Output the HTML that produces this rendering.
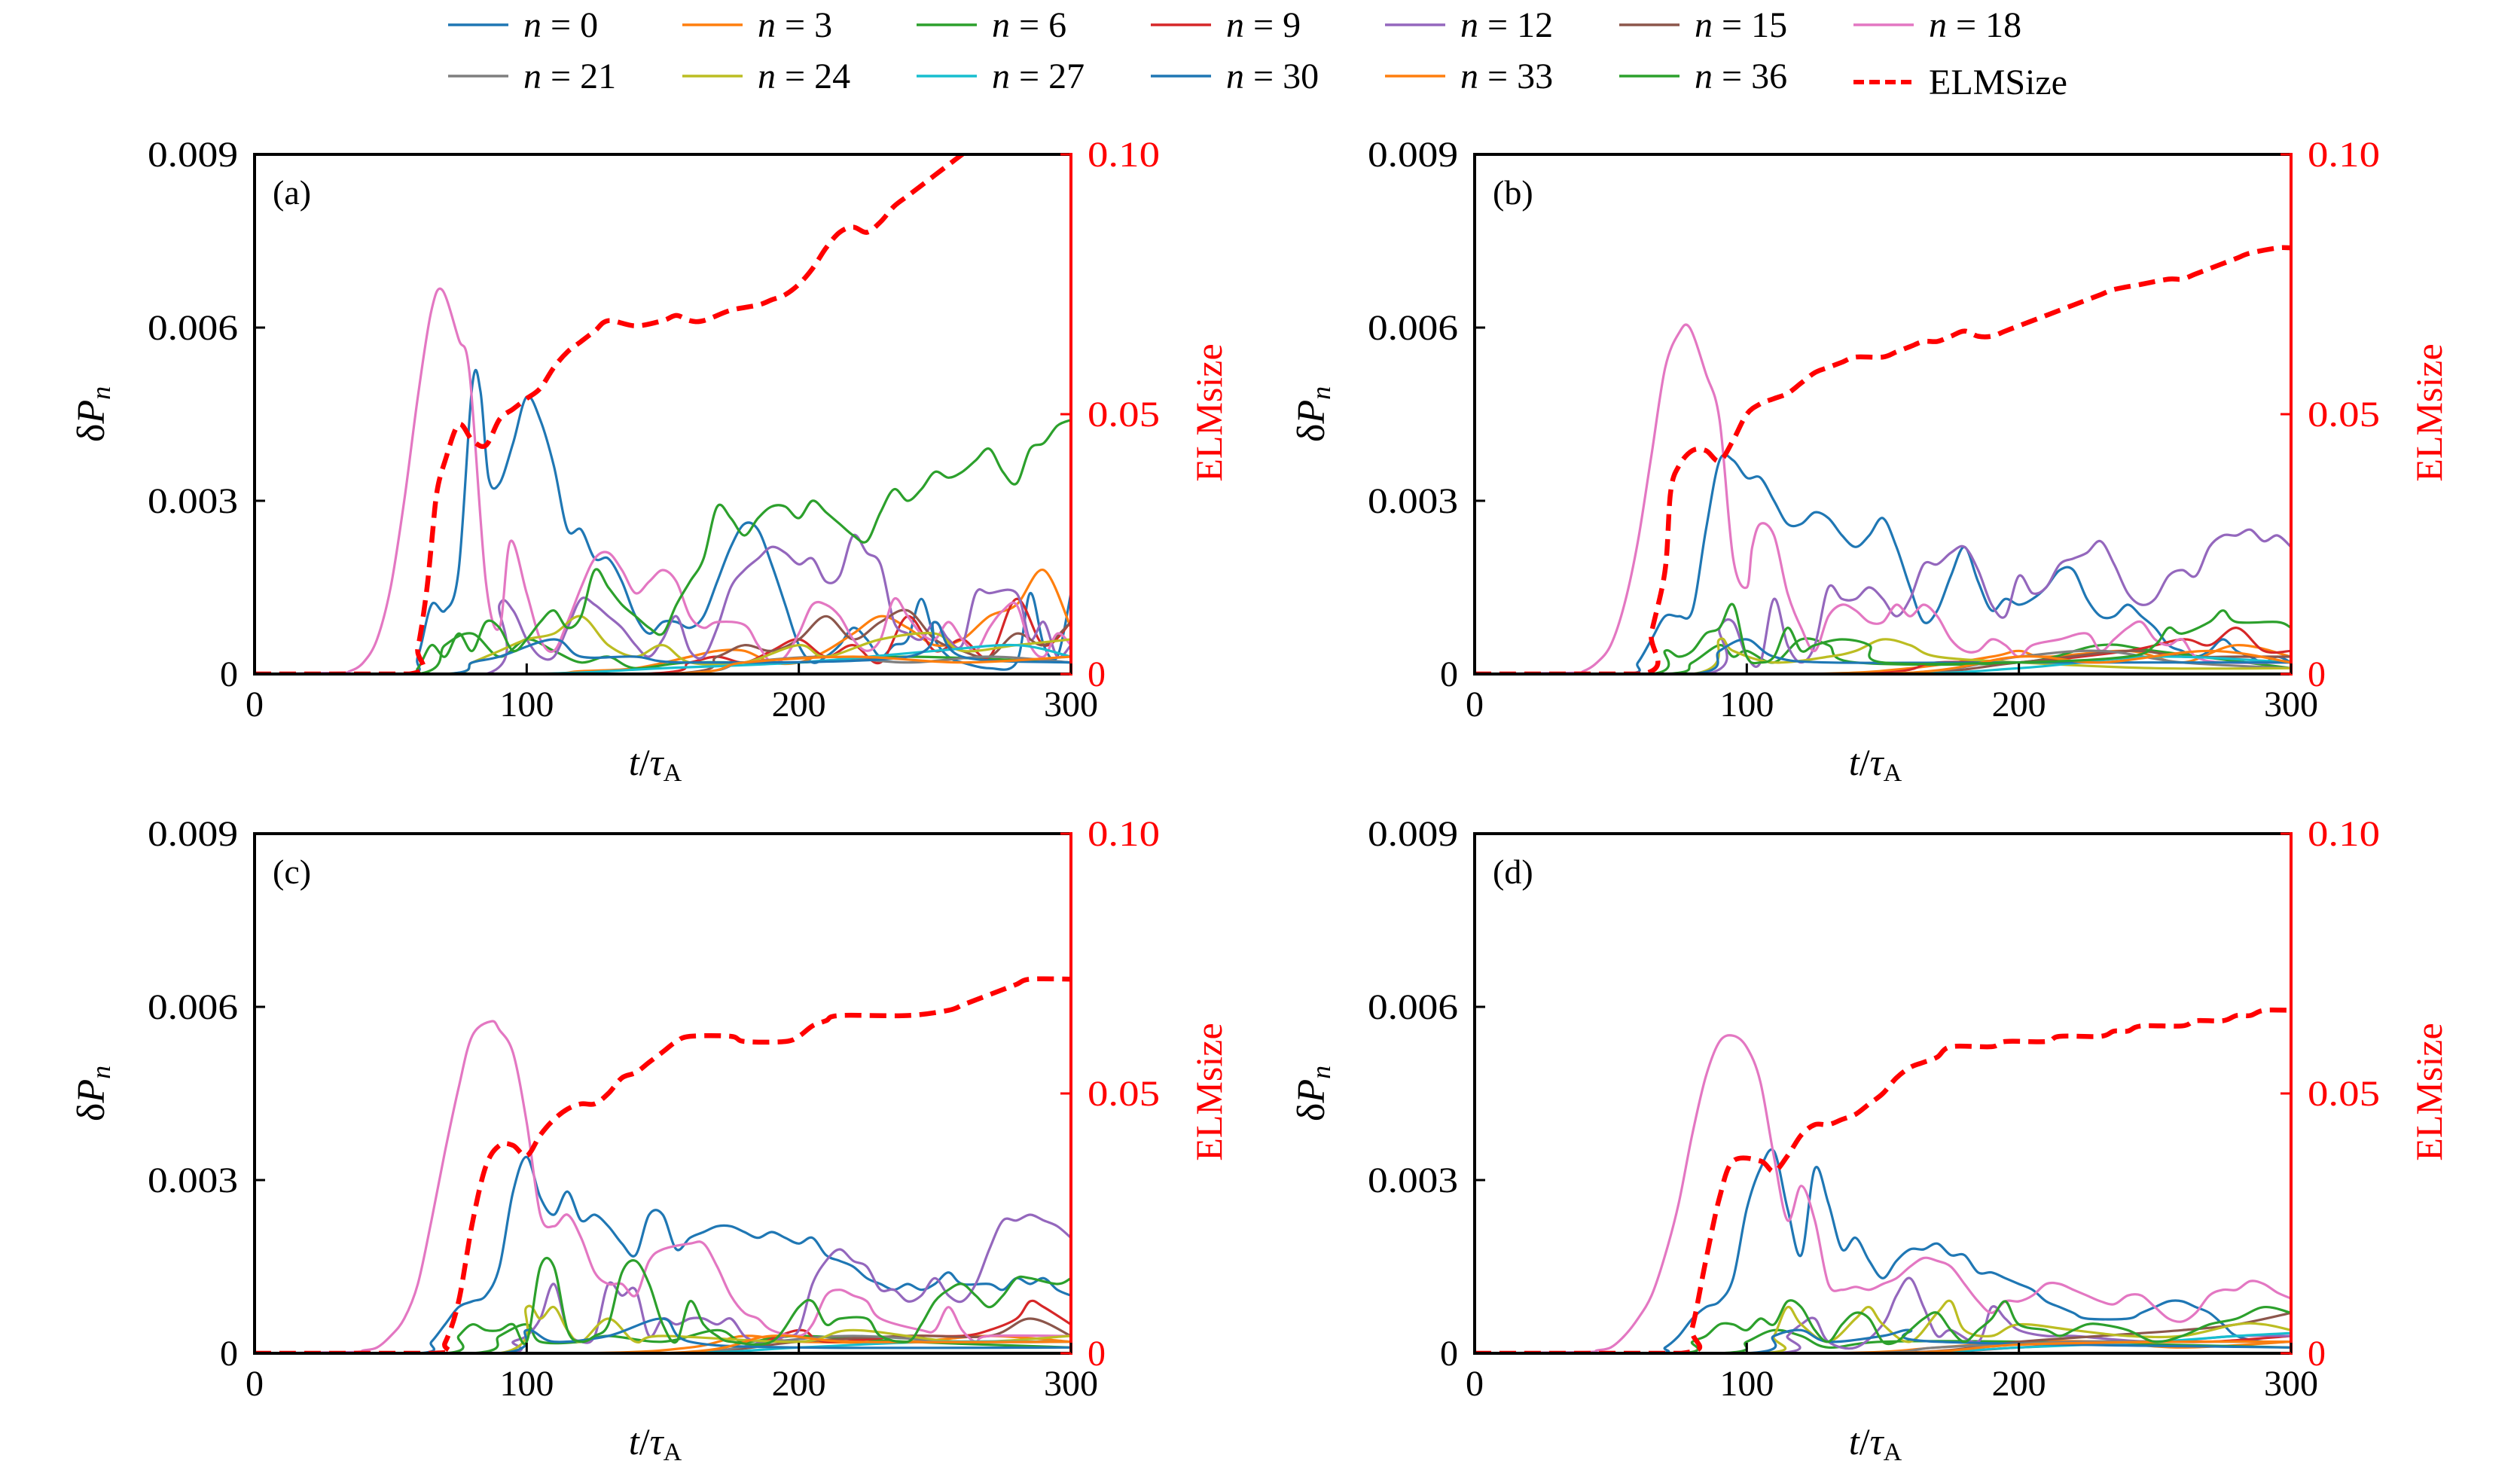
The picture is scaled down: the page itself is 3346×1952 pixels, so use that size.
<!DOCTYPE html>
<html><head><meta charset="utf-8"><style>
html,body{margin:0;padding:0;background:#fff;}
svg{display:block;}
text{font-family:"Liberation Serif",serif;}
</style></head>
<body>
<svg id="fig" width="3346" height="1952" viewBox="0 0 3346 1952" xmlns="http://www.w3.org/2000/svg"></svg>
<script>
// ---- data: dP in units of 1e-3, ELMsize in %, pairs [t, value] ----
const a_n0=[[0,0],[55,0],[60,0.3],[65,1.2],[70,1.1],[75,1.8],[80,5.0],[83,4.9],[86,3.4],[90,3.3],[95,4.0],[100,4.8],[105,4.4],[110,3.6],[115,2.5],[120,2.5],[125,2.0],[130,2.0],[135,1.6],[140,1.0],[145,0.7],[150,0.9],[155,0.9],[160,0.8],[165,1.0],[170,1.6],[175,2.2],[180,2.6],[185,2.5],[190,1.9],[195,1.2],[200,0.5],[205,0.2],[210,0.3],[215,0.5],[220,0.8],[225,0.6],[230,0.3],[235,0.5],[240,0.6],[245,1.3],[250,0.6],[255,0.3],[260,0.2],[270,0.1],[280,0.2],[285,1.4],[290,0.5],[295,0.3],[300,1.4]];
const a_n18=[[0,0],[30,0.02],[35,0.05],[40,0.2],[45,0.6],[50,1.5],[55,3.0],[60,4.8],[65,6.3],[69,6.65],[75,5.8],[79,5.2],[85,1.6],[90,0.8],[94,2.3],[100,1.4],[105,0.6],[110,0.4],[115,0.9],[120,1.5],[125,2.0],[130,2.1],[135,1.8],[140,1.4],[145,1.6],[150,1.8],[155,1.6],[160,1.0],[165,0.8],[170,0.9],[180,0.85],[185,0.5],[190,0.2],[195,0.3],[200,0.7],[205,1.2],[210,1.2],[215,1.0],[220,0.6],[225,0.4],[230,0.6],[235,1.3],[240,1.0],[245,0.7],[250,0.6],[255,0.9],[260,0.6],[265,0.4],[270,0.8],[275,1.1],[280,1.2],[285,0.5],[290,0.3],[295,0.7],[300,0.5]];
const a_n12=[[0,0],[85,0],[90,1.2],[95,1.1],[100,0.6],[105,0.3],[110,0.3],[115,0.8],[120,1.3],[125,1.2],[130,1.0],[135,0.8],[140,0.5],[145,0.3],[150,0.6],[155,1.0],[160,0.4],[165,0.3],[170,0.8],[175,1.5],[180,1.8],[185,2.0],[190,2.2],[195,2.1],[200,1.9],[205,2.0],[210,1.6],[215,1.7],[220,2.4],[225,2.1],[230,1.9],[235,0.9],[240,0.7],[245,0.6],[250,0.9],[255,0.6],[260,0.5],[265,1.4],[270,1.4],[280,1.4],[285,0.6],[290,0.9],[295,0.3],[300,0.5]];
const a_n36=[[0,0],[55,0],[60,0.1],[65,0.5],[70,0.3],[75,0.7],[80,0.4],[85,0.9],[90,0.8],[95,0.4],[100,0.6],[105,0.9],[110,1.1],[115,0.8],[120,1.0],[125,1.8],[130,1.5],[135,1.2],[140,1.0],[145,0.8],[150,0.7],[155,1.2],[160,1.6],[165,2.0],[170,2.9],[175,2.7],[180,2.4],[185,2.7],[190,2.9],[195,2.9],[200,2.7],[205,3.0],[210,2.8],[215,2.6],[220,2.4],[225,2.3],[230,2.8],[235,3.2],[240,3.0],[245,3.2],[250,3.5],[255,3.4],[260,3.5],[265,3.7],[270,3.9],[275,3.5],[280,3.3],[285,3.9],[290,4.0],[295,4.3],[300,4.4]];
const a_n6=[[0,0],[60,0],[70,0.5],[80,0.7],[90,0.3],[100,0.6],[110,0.4],[120,0.2],[130,0.3],[140,0.1],[160,0.2],[200,0.2],[240,0.3],[300,0.2]];
const a_n3=[[0,0],[100,0],[120,0.05],[140,0.1],[160,0.3],[170,0.4],[180,0.4],[190,0.2],[200,0.2],[210,0.4],[220,0.7],[230,1.0],[240,0.8],[250,0.5],[260,0.6],[270,1.0],[280,1.2],[290,1.8],[300,0.8]];
const a_n9=[[0,0],[140,0],[160,0.2],[170,0.3],[180,0.2],[190,0.4],[200,0.6],[210,0.3],[220,0.5],[230,0.2],[240,1.0],[250,0.4],[260,0.6],[270,0.3],[280,1.3],[290,0.5],[300,0.9]];
const a_n15=[[0,0],[150,0],[170,0.3],[180,0.5],[190,0.4],[200,0.6],[210,1.0],[220,0.6],[230,0.9],[240,1.1],[250,0.6],[260,0.4],[270,0.3],[280,0.7],[290,0.5],[300,0.9]];
const a_n24=[[0,0],[70,0],[80,0.2],[90,0.4],[100,0.6],[110,0.7],[120,1.0],[130,0.5],[140,0.3],[150,0.5],[160,0.2],[180,0.2],[200,0.5],[210,0.3],[230,0.6],[250,0.7],[260,0.4],[280,0.5],[300,0.6]];
const a_n27=[[0,0],[100,0],[150,0.1],[200,0.2],[250,0.4],[280,0.5],[300,0.3]];
const a_n21=[[0,0],[150,0],[180,0.2],[210,0.3],[240,0.2],[270,0.3],[300,0.2]];
const a_n30=[[0,0],[70,0],[80,0.2],[90,0.3],[110,0.6],[120,0.3],[140,0.3],[160,0.2],[240,0.3],[250,0.9],[260,0.3],[300,0.2]];
const a_n33=[[0,0],[150,0],[180,0.2],[220,0.3],[260,0.2],[300,0.3]];
const a_elm=[[0,0],[57,0],[60,0.5],[63,1.5],[65,2.5],[67,3.5],[70,4.1],[75,4.8],[80,4.5],[85,4.4],[90,4.9],[95,5.1],[100,5.3],[105,5.5],[110,5.9],[115,6.2],[120,6.4],[125,6.6],[130,6.8],[140,6.7],[150,6.8],[155,6.9],[160,6.8],[165,6.8],[175,7.0],[185,7.1],[190,7.2],[195,7.3],[200,7.5],[205,7.8],[210,8.2],[215,8.5],[220,8.6],[225,8.5],[230,8.7],[235,9.0],[240,9.2],[245,9.4],[250,9.6],[255,9.8],[260,10.0],[270,10.4],[300,11.5]];

const b_n0=[[0,0],[55,0],[60,0.2],[65,0.6],[70,1.0],[75,1.0],[80,1.1],[85,2.5],[90,3.7],[95,3.7],[100,3.4],[105,3.4],[110,3.0],[115,2.6],[120,2.6],[125,2.8],[130,2.7],[135,2.4],[140,2.2],[145,2.4],[150,2.7],[155,2.2],[160,1.5],[165,0.9],[170,1.1],[175,1.7],[180,2.2],[185,1.6],[190,1.1],[195,1.3],[200,1.2],[205,1.3],[210,1.5],[215,1.8],[220,1.8],[225,1.3],[230,1.0],[235,1.0],[240,1.2],[245,1.0],[250,0.8],[255,0.5],[260,0.4],[265,0.3],[270,0.4],[275,0.6],[280,0.4],[285,0.3],[290,0.2],[295,0.3],[300,0.2]];
const b_n18=[[0,0],[35,0.02],[40,0.05],[45,0.2],[50,0.5],[55,1.2],[60,2.3],[65,3.8],[70,5.3],[75,5.9],[79,6.0],[85,5.2],[90,4.4],[95,2.0],[100,1.5],[102,2.2],[105,2.6],[110,2.4],[115,1.4],[120,0.8],[125,0.4],[130,1.0],[135,1.2],[140,1.1],[145,0.9],[150,0.9],[155,1.2],[160,1.0],[165,1.2],[170,1.0],[175,0.6],[180,0.4],[185,0.4],[190,0.6],[195,0.5],[200,0.3],[205,0.5],[215,0.6],[225,0.7],[230,0.4],[235,0.6],[240,0.8],[245,0.9],[250,0.6],[255,0.5],[260,0.6],[265,0.3],[275,0.2],[300,0.2]];
const b_n12=[[0,0],[85,0],[90,0.8],[95,0.9],[100,0.3],[105,0.2],[110,1.3],[115,0.5],[120,0.2],[125,0.5],[130,1.5],[135,1.3],[140,1.3],[145,1.5],[150,1.3],[155,1.0],[160,1.3],[165,1.9],[170,1.9],[175,2.1],[180,2.2],[185,1.8],[190,1.2],[195,1.0],[200,1.7],[205,1.4],[210,1.5],[215,1.9],[220,2.0],[225,2.1],[230,2.3],[235,1.9],[240,1.4],[245,1.2],[250,1.3],[255,1.7],[260,1.8],[265,1.7],[270,2.2],[275,2.4],[280,2.4],[285,2.5],[290,2.3],[295,2.4],[300,2.2]];
const b_n36=[[0,0],[65,0],[70,0.4],[75,0.3],[80,0.4],[85,0.7],[90,0.8],[95,1.2],[100,0.3],[105,0.2],[110,0.3],[115,0.8],[120,0.4],[125,0.5],[135,0.6],[145,0.5],[150,0.2],[200,0.2],[240,0.3],[250,0.5],[255,0.8],[260,0.7],[270,0.9],[275,1.1],[280,0.9],[295,0.9],[300,0.8]];
const b_n6=[[0,0],[70,0],[80,0.2],[90,0.5],[95,0.3],[100,0.4],[110,0.2],[120,0.6],[130,0.5],[140,0.2],[200,0.2],[230,0.5],[250,0.4],[300,0.1]];
const b_n3=[[0,0],[120,0],[160,0.1],[190,0.3],[200,0.4],[210,0.3],[240,0.4],[260,0.2],[280,0.5],[300,0.3]];
const b_n9=[[0,0],[140,0],[170,0.2],[200,0.2],[240,0.4],[260,0.6],[270,0.5],[280,0.8],[290,0.4],[300,0.4]];
const b_n15=[[0,0],[150,0],[200,0.2],[240,0.4],[260,0.3],[280,0.3],[300,0.3]];
const b_n24=[[0,0],[80,0],[90,0.6],[95,0.4],[110,0.2],[130,0.3],[140,0.4],[150,0.6],[160,0.5],[170,0.3],[200,0.2],[250,0.1],[300,0.1]];
const b_n27=[[0,0],[150,0],[200,0.1],[250,0.3],[300,0.2]];
const b_n21=[[0,0],[150,0],[200,0.3],[230,0.4],[260,0.2],[300,0.1]];
const b_n30=[[0,0],[80,0],[90,0.4],[100,0.6],[110,0.3],[130,0.2],[200,0.2],[300,0.2]];
const b_n33=[[0,0],[150,0],[200,0.3],[230,0.2],[270,0.4],[300,0.2]];
const b_elm=[[0,0],[62,0],[65,0.8],[70,2.0],[72,3.5],[75,4.0],[80,4.3],[85,4.3],[90,4.1],[95,4.5],[100,5.0],[105,5.2],[110,5.3],[115,5.4],[120,5.6],[125,5.8],[130,5.9],[135,6.0],[140,6.1],[150,6.1],[155,6.2],[160,6.3],[165,6.4],[170,6.4],[175,6.5],[180,6.6],[185,6.5],[190,6.5],[195,6.6],[200,6.7],[205,6.8],[210,6.9],[215,7.0],[220,7.1],[225,7.2],[230,7.3],[235,7.4],[245,7.5],[255,7.6],[260,7.6],[265,7.7],[270,7.8],[275,7.9],[280,8.0],[285,8.1],[295,8.2],[300,8.2]];

const c_n0=[[0,0],[60,0],[65,0.2],[70,0.5],[75,0.8],[80,0.9],[85,1.0],[90,1.5],[95,2.8],[100,3.4],[105,2.7],[110,2.4],[115,2.8],[120,2.3],[125,2.4],[130,2.2],[135,1.9],[140,1.7],[145,2.4],[150,2.4],[155,1.8],[160,2.0],[165,2.1],[170,2.2],[175,2.2],[180,2.1],[185,2.0],[190,2.1],[195,2.0],[200,1.9],[205,2.0],[210,1.7],[215,1.6],[220,1.5],[225,1.3],[230,1.2],[235,1.1],[240,1.2],[245,1.1],[250,1.2],[255,1.4],[260,1.2],[270,1.2],[275,1.1],[280,1.3],[285,1.2],[290,1.3],[295,1.1],[300,1.0]];
const c_n18=[[0,0],[35,0.02],[40,0.05],[45,0.1],[50,0.3],[55,0.6],[60,1.2],[65,2.3],[70,3.5],[75,4.6],[80,5.5],[87,5.75],[90,5.6],[95,5.2],[100,4.0],[105,2.4],[110,2.2],[115,2.4],[120,2.0],[125,1.4],[130,1.2],[135,1.2],[140,1.0],[145,1.6],[150,1.8],[160,1.9],[165,1.9],[170,1.5],[175,1.0],[180,0.7],[185,0.6],[190,0.4],[200,0.3],[205,0.5],[210,1.0],[215,1.1],[220,1.0],[225,0.9],[230,0.6],[245,0.4],[250,0.4],[255,0.8],[260,0.4],[265,0.2],[270,0.3],[300,0.3]];
const c_n12=[[0,0],[90,0],[95,0.2],[100,0.3],[105,0.6],[110,1.2],[115,0.4],[120,0.2],[125,0.3],[130,1.2],[135,1.0],[140,1.1],[145,0.3],[150,0.6],[155,0.5],[160,0.6],[165,0.6],[170,0.5],[175,0.6],[180,0.3],[185,0.2],[190,0.2],[195,0.3],[200,0.4],[205,1.2],[210,1.6],[215,1.8],[220,1.6],[225,1.5],[230,1.1],[235,1.1],[240,0.9],[245,1.0],[250,1.3],[255,1.0],[260,0.9],[265,1.2],[270,1.8],[275,2.3],[280,2.3],[285,2.4],[290,2.3],[295,2.2],[300,2.0]];
const c_n36=[[0,0],[70,0],[75,0.3],[80,0.5],[85,0.4],[90,0.4],[95,0.5],[100,0.2],[105,1.5],[110,1.5],[115,0.4],[120,0.2],[125,0.3],[130,0.5],[135,1.4],[140,1.6],[145,1.2],[150,0.5],[155,0.2],[160,0.9],[165,0.5],[170,0.3],[175,0.2],[190,0.2],[200,0.8],[205,0.9],[210,0.5],[215,0.6],[225,0.6],[230,0.3],[240,0.2],[245,0.5],[250,0.9],[255,1.1],[260,1.2],[265,1.0],[270,0.8],[275,1.0],[280,1.3],[285,1.3],[295,1.2],[300,1.3]];
const c_n6=[[0,0],[80,0],[90,0.3],[100,0.5],[105,0.2],[120,0.2],[130,0.3],[150,0.2],[170,0.4],[180,0.2],[200,0.3],[240,0.2],[300,0.1]];
const c_n3=[[0,0],[120,0],[160,0.1],[180,0.3],[200,0.2],[240,0.2],[270,0.3],[300,0.2]];
const c_n9=[[0,0],[150,0],[180,0.1],[200,0.4],[210,0.2],[240,0.3],[260,0.3],[270,0.4],[280,0.6],[285,0.9],[290,0.8],[300,0.5]];
const c_n15=[[0,0],[150,0],[200,0.2],[240,0.3],[270,0.3],[285,0.6],[300,0.3]];
const c_n24=[[0,0],[90,0],[100,0.8],[105,0.6],[110,0.8],[115,0.4],[120,0.2],[130,0.6],[140,0.2],[150,0.3],[200,0.2],[220,0.4],[260,0.2],[300,0.3]];
const c_n27=[[0,0],[150,0],[200,0.1],[250,0.2],[300,0.2]];
const c_n21=[[0,0],[150,0],[190,0.2],[220,0.3],[260,0.2],[300,0.2]];
const c_n30=[[0,0],[90,0],[100,0.4],[110,0.2],[130,0.3],[150,0.6],[160,0.2],[200,0.1],[300,0.1]];
const c_n33=[[0,0],[150,0],[190,0.3],[220,0.2],[300,0.2]];
const c_elm=[[0,0],[66,0],[70,0.2],[75,1.0],[80,2.5],[85,3.6],[90,4.0],[95,4.0],[100,3.8],[105,4.2],[110,4.5],[115,4.7],[120,4.8],[125,4.8],[130,5.0],[135,5.3],[140,5.4],[145,5.6],[150,5.8],[155,6.0],[160,6.1],[175,6.1],[180,6.0],[195,6.0],[200,6.1],[205,6.3],[210,6.4],[215,6.5],[240,6.5],[255,6.6],[260,6.7],[265,6.8],[270,6.9],[275,7.0],[280,7.1],[285,7.2],[300,7.2]];

const d_n0=[[0,0],[65,0],[70,0.1],[75,0.3],[80,0.6],[85,0.8],[90,0.9],[95,1.3],[100,2.5],[105,3.2],[110,3.5],[115,2.5],[120,1.7],[125,3.2],[130,2.6],[135,1.8],[140,2.0],[145,1.6],[150,1.3],[155,1.6],[160,1.8],[165,1.8],[170,1.9],[175,1.7],[180,1.7],[185,1.4],[190,1.4],[195,1.3],[200,1.2],[205,1.1],[210,0.9],[215,0.8],[220,0.7],[225,0.6],[240,0.6],[245,0.7],[250,0.8],[255,0.9],[260,0.9],[265,0.8],[270,0.7],[275,0.5],[280,0.3],[290,0.2],[300,0.2]];
const d_n18=[[0,0],[40,0.02],[45,0.05],[50,0.1],[55,0.3],[60,0.6],[65,1.0],[70,1.7],[75,2.6],[80,3.8],[85,4.8],[90,5.4],[95,5.5],[100,5.3],[105,4.7],[110,3.4],[115,2.3],[120,2.9],[125,2.3],[130,1.2],[135,1.1],[140,1.15],[145,1.1],[150,1.2],[155,1.3],[160,1.5],[165,1.65],[170,1.6],[175,1.5],[180,1.2],[185,0.9],[190,0.7],[195,0.9],[200,0.9],[205,1.0],[210,1.2],[215,1.2],[220,1.1],[225,1.0],[230,0.9],[235,0.85],[240,1.0],[245,1.0],[250,0.8],[255,0.6],[260,0.55],[265,0.7],[270,1.0],[275,1.1],[280,1.1],[285,1.25],[290,1.2],[295,1.05],[300,0.95]];
const d_n12=[[0,0],[110,0],[115,0.3],[120,0.5],[125,0.6],[130,0.2],[140,0.1],[150,0.5],[155,1.0],[160,1.3],[165,0.8],[170,0.3],[175,0.4],[185,0.2],[190,0.8],[195,0.6],[200,0.4],[210,0.3],[220,0.3],[250,0.2],[280,0.3],[300,0.3]];
const d_n36=[[0,0],[75,0],[80,0.2],[85,0.3],[90,0.5],[95,0.5],[100,0.4],[105,0.6],[110,0.5],[115,0.9],[120,0.8],[125,0.4],[130,0.2],[135,0.5],[140,0.7],[145,0.6],[150,0.2],[155,0.2],[160,0.4],[165,0.6],[170,0.7],[175,0.4],[180,0.2],[185,0.4],[190,0.6],[195,0.9],[200,0.5],[210,0.4],[215,0.3],[220,0.4],[225,0.5],[230,0.5],[240,0.4],[250,0.2],[260,0.3],[270,0.5],[280,0.6],[290,0.8],[300,0.7]];
const d_n24=[[0,0],[105,0],[110,0.3],[115,0.8],[120,0.5],[130,0.2],[140,0.6],[145,0.8],[150,0.5],[160,0.2],[170,0.7],[175,0.9],[180,0.4],[190,0.3],[200,0.5],[220,0.4],[240,0.3],[260,0.3],[280,0.5],[290,0.5],[300,0.4]];
const d_n6=[[0,0],[90,0],[100,0.2],[110,0.4],[120,0.3],[130,0.1],[150,0.2],[200,0.2],[300,0.1]];
const d_n3=[[0,0],[130,0],[170,0.1],[200,0.2],[230,0.2],[260,0.1],[300,0.2]];
const d_n9=[[0,0],[150,0],[200,0.1],[240,0.2],[270,0.2],[300,0.3]];
const d_n15=[[0,0],[150,0],[200,0.2],[230,0.3],[260,0.4],[280,0.5],[300,0.7]];
const d_n27=[[0,0],[150,0],[200,0.1],[250,0.2],[280,0.3],[300,0.35]];
const d_n21=[[0,0],[140,0],[170,0.1],[220,0.2],[260,0.2],[300,0.2]];
const d_n30=[[0,0],[100,0],[110,0.3],[120,0.4],[130,0.2],[150,0.3],[160,0.4],[170,0.2],[300,0.1]];
const d_n33=[[0,0],[150,0],[200,0.15],[260,0.2],[300,0.2]];
const d_elm=[[0,0],[76,0],[80,0.5],[85,1.8],[90,3.0],[95,3.7],[105,3.7],[110,3.5],[115,3.8],[120,4.2],[125,4.4],[130,4.4],[135,4.5],[140,4.6],[145,4.8],[150,5.0],[155,5.3],[160,5.5],[165,5.6],[170,5.7],[175,5.9],[190,5.9],[195,6.0],[210,6.0],[215,6.1],[230,6.1],[235,6.2],[240,6.2],[245,6.3],[260,6.3],[265,6.4],[275,6.4],[280,6.5],[285,6.5],[290,6.6],[300,6.6]];

const modeLabels=["0","3","6","9","12","15","18","21","24","27","30","33","36"];
const modeColors=["#1f77b4","#ff7f0e","#2ca02c","#d62728","#9467bd","#8c564b","#e377c2","#7f7f7f","#bcbd22","#17becf","#1f77b4","#ff7f0e","#2ca02c"];
const xTicks=[0,100,200,300];
const yTicks=[0,3,6,9];
const yTickLabels=["0","0.003","0.006","0.009"];
const rTicks=[0,5,10];
const rTickLabels=["0","0.05","0.10"];
const panelNames=["a","b","c","d"];

const panelSeries={
 a:[a_n0,a_n3,a_n6,a_n9,a_n12,a_n15,a_n18,a_n21,a_n24,a_n27,a_n30,a_n33,a_n36],
 b:[b_n0,b_n3,b_n6,b_n9,b_n12,b_n15,b_n18,b_n21,b_n24,b_n27,b_n30,b_n33,b_n36],
 c:[c_n0,c_n3,c_n6,c_n9,c_n12,c_n15,c_n18,c_n21,c_n24,c_n27,c_n30,c_n33,c_n36],
 d:[d_n0,d_n3,d_n6,d_n9,d_n12,d_n15,d_n18,d_n21,d_n24,d_n27,d_n30,d_n33,d_n36]
};
const panelElm={a:a_elm,b:b_elm,c:c_elm,d:d_elm};

const NS="http://www.w3.org/2000/svg";
const svg=document.getElementById('fig');
function el(tag,attrs,parent){const e=document.createElementNS(NS,tag);for(const k in attrs)e.setAttribute(k,attrs[k]);(parent||svg).appendChild(e);return e;}

const PW=1084, PH=690;
const origins={a:[338,205],b:[1958,205],c:[338,1107],d:[1958,1107]};

function smoothPath(pts,ymax){
  let d="M"+pts[0][0].toFixed(1)+","+pts[0][1].toFixed(1);
  for(let i=0;i<pts.length-1;i++){
    const p0=pts[Math.max(0,i-1)],p1=pts[i],p2=pts[i+1],p3=pts[Math.min(pts.length-1,i+2)];
    const c1x=p1[0]+(p2[0]-p0[0])/6,c1y=Math.min(ymax,p1[1]+(p2[1]-p0[1])/6);
    const c2x=p2[0]-(p3[0]-p1[0])/6,c2y=Math.min(ymax,p2[1]-(p3[1]-p1[1])/6);
    d+="C"+c1x.toFixed(1)+","+c1y.toFixed(1)+" "+c2x.toFixed(1)+","+c2y.toFixed(1)+" "+p2[0].toFixed(1)+","+p2[1].toFixed(1);
  }
  return d;
}

panelNames.forEach(p=>{
  const [X0,Y0]=origins[p];
  const xS=t=>X0+t/300*PW;
  const yS=v=>Y0+PH-v/9*PH;
  const rS=v=>Y0+PH-v/10*PH;
  const g=el('g',{});
  
  
  const defs=el('defs',{},g);
  const cp=el('clipPath',{id:'clip-'+p},defs);
  el('rect',{x:X0,y:Y0,width:PW,height:PH},cp);
  const lines=el('g',{'clip-path':'url(#clip-'+p+')'},g);
  
  
  panelSeries[p].forEach((s,i)=>{
    const pts=s.map(q=>[xS(q[0]),yS(q[1])]);
    const path=el('path',{d:smoothPath(pts,Y0+PH),fill:'none',stroke:modeColors[i],'stroke-width':3.2,'stroke-linejoin':'round'},lines);
    
    
  });
  const ept=panelElm[p].map(q=>[xS(q[0]),rS(q[1])]);
  const ep=el('path',{d:smoothPath(ept,Y0+PH),fill:'none',stroke:'#ff0000','stroke-width':6.5,'stroke-dasharray':'22,11'},lines);
  
  
  el('line',{x1:X0,y1:Y0,x2:X0+PW,y2:Y0,stroke:'#000','stroke-width':4},g);
  el('line',{x1:X0,y1:Y0+PH,x2:X0+PW,y2:Y0+PH,stroke:'#000','stroke-width':4},g);
  el('line',{x1:X0,y1:Y0-2,x2:X0,y2:Y0+PH+2,stroke:'#000','stroke-width':4},g);
  el('line',{x1:X0+PW,y1:Y0-2,x2:X0+PW,y2:Y0+PH+2,stroke:'#ff0000','stroke-width':4},g);
  xTicks.forEach(t=>{
    el('line',{x1:xS(t),y1:Y0+PH,x2:xS(t),y2:Y0+PH-14,stroke:'#000','stroke-width':3},g);
    const tx=el('text',{x:xS(t),y:Y0+PH+56,'font-size':48,'text-anchor':'middle',fill:'#000'},g);
    tx.textContent=String(t);
    
    
  });
  yTicks.forEach((v,i)=>{
    el('line',{x1:X0,y1:yS(v),x2:X0+14,y2:yS(v),stroke:'#000','stroke-width':3},g);
    const lab=yTickLabels[i];
    const attrs={x:X0-22,y:yS(v)+16,'font-size':48,'text-anchor':'end',fill:'#000'};
    if(lab.length>1){attrs.textLength=120;attrs.lengthAdjust='spacingAndGlyphs';}
    const tx=el('text',attrs,g);
    tx.textContent=lab;
    
    
  });
  rTicks.forEach((v,i)=>{
    el('line',{x1:X0+PW,y1:rS(v),x2:X0+PW-14,y2:rS(v),stroke:'#ff0000','stroke-width':3},g);
    const lab=rTickLabels[i];
    const attrs={x:X0+PW+22,y:rS(v)+16,'font-size':48,'text-anchor':'start',fill:'#ff0000'};
    if(lab.length>1){attrs.textLength=96;attrs.lengthAdjust='spacingAndGlyphs';}
    const tx=el('text',attrs,g);
    tx.textContent=lab;
    
    
  });
  const pl=el('text',{x:X0+24,y:Y0+66,'font-size':46,fill:'#000'},g);
  pl.textContent='('+p+')';
  
  
  const xt=el('text',{x:X0+PW/2-10,y:Y0+PH+134,'font-size':50,'text-anchor':'middle',fill:'#000'},g);
  xt.innerHTML='<tspan font-style="italic">t</tspan>/<tspan font-style="italic">τ</tspan><tspan font-size="34" dy="8">A</tspan>';
  
  
  const yt=el('text',{x:0,y:0,'font-size':52,'text-anchor':'middle',fill:'#000',transform:'translate('+(X0-200)+','+(Y0+PH/2)+') rotate(-90)'},g);
  yt.innerHTML='δ<tspan font-style="italic">P</tspan><tspan font-style="italic" font-size="36" dy="8">n</tspan>';
  
  
  const rt=el('text',{x:0,y:0,'font-size':50,'text-anchor':'middle',fill:'#ff0000',transform:'translate('+(X0+PW+200)+','+(Y0+PH/2-2)+') rotate(-90)'},g);
  rt.textContent='ELMsize';
  
  
});

const leg=el('g',{});


const legItems=modeLabels.map((m,i)=>({lab:m,color:modeColors[i]})).concat([{lab:'ELMSize',color:'#ff0000',dash:true}]);
legItems.forEach((it,i)=>{
  const row=i<7?0:1, col=i<7?i:i-7;
  const x=595+311*col, y=row===0?33:101;
  const ge=el('g',{},leg);
  
  
  if(it.dash){
    el('line',{x1:x,y1:y+8,x2:x+80,y2:y+8,stroke:it.color,'stroke-width':6,'stroke-dasharray':'14,7'},ge);
    const t=el('text',{x:x+100,y:y+24,'font-size':48,fill:'#000'},ge);
    t.textContent='ELMSize';
  } else {
    el('line',{x1:x,y1:y,x2:x+80,y2:y,stroke:it.color,'stroke-width':3.5},ge);
    const t=el('text',{x:x+100,y:y+16,'font-size':48,fill:'#000'},ge);
    t.innerHTML='<tspan font-style="italic">n</tspan> = '+it.lab;
  }
});
</script>
</body></html>
